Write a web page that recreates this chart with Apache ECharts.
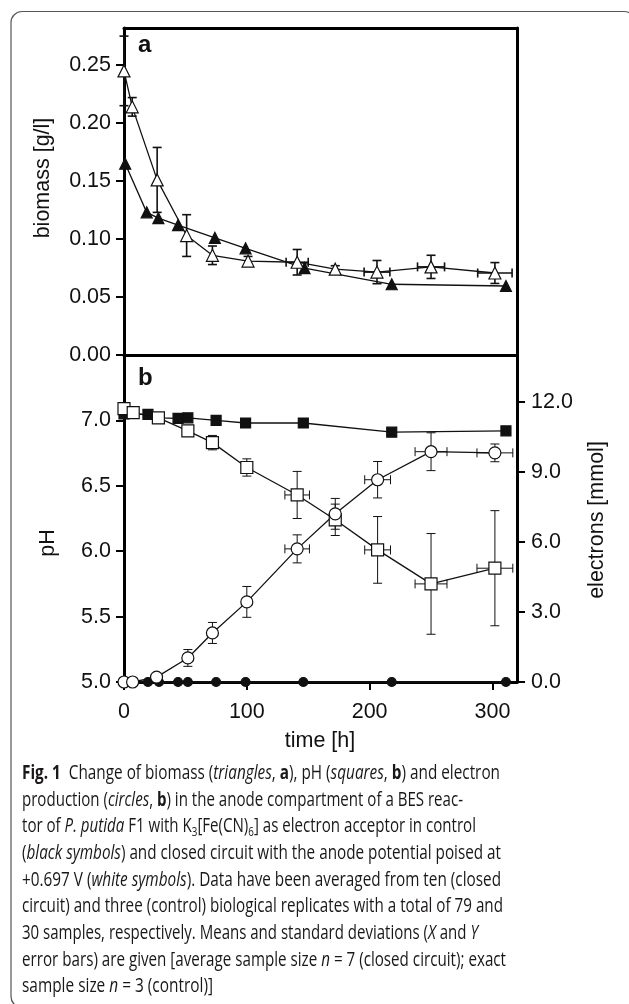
<!DOCTYPE html>
<html>
<head>
<meta charset="utf-8">
<script src="https://cdn.jsdelivr.net/npm/echarts@6/dist/echarts.min.js"></script>
<style>
body{margin:0;background:#fff;}
#main{position:absolute;left:0;top:0;width:629px;height:1004px;}
#cap{position:absolute;left:22px;top:759px;font-family:"Open Sans",sans-serif;font-size:19.5px;color:#1a1718;}
#cap div{height:26.67px;line-height:26.67px;white-space:nowrap;}
#cap span.l{display:inline-block;transform-origin:0 50%;}
#cap sub{font-size:65%;line-height:0;vertical-align:-0.3em;}
</style>
</head>
<body>
<div id="main"></div>
<div id="cap">
<div><span class="l"><b>Fig. 1</b>&nbsp;&nbsp;Change of biomass (<i>triangles</i>, <b>a</b>), pH (<i>squares</i>, <b>b</b>) and electron</span></div>
<div><span class="l">production (<i>circles</i>, <b>b</b>) in the anode compartment of a BES reac-</span></div>
<div><span class="l">tor of <i>P. putida</i> F1 with K<sub>3</sub>[Fe(CN)<sub>6</sub>] as electron acceptor in control</span></div>
<div><span class="l">(<i>black symbols</i>) and closed circuit with the anode potential poised at</span></div>
<div><span class="l">+0.697 V (<i>white symbols</i>). Data have been averaged from ten (closed</span></div>
<div><span class="l">circuit) and three (control) biological replicates with a total of 79 and</span></div>
<div><span class="l">30 samples, respectively. Means and standard deviations (<i>X</i> and <i>Y</i></span></div>
<div><span class="l">error bars) are given [average sample size <i>n</i> = 7 (closed circuit); exact</span></div>
<div><span class="l">sample size <i>n</i> = 3 (control)]</span></div>
</div>
<script>
// panel a: biomass [g/l]
var triClosedT = [0, 6.7, 27, 51, 72, 101, 141, 172, 206, 250, 302];
var triClosedV = [0.245, 0.214, 0.151, 0.103, 0.086, 0.081, 0.080, 0.074, 0.0715, 0.076, 0.0707];
var triClosedSdV = [0.03, 0.008, 0.028, 0.018, 0.008, 0.004, 0.011, 0.003, 0.010, 0.010, 0.009];
var triClosedSdT = [0, 0, 0, 0, 0, 0, 9, 0, 10.5, 11, 14];
var triCtrlT = [1, 18.5, 28, 44, 74, 99, 147, 218, 311];
var triCtrlV = [0.165, 0.123, 0.118, 0.112, 0.101, 0.092, 0.075, 0.061, 0.0595];

// panel b: pH and electrons [mmol]
var sqClosedT = [0, 7.5, 28, 52, 72, 100, 141, 172, 206.5, 250, 302];
var sqClosedV = [7.09, 7.06, 7.02, 6.92, 6.83, 6.64, 6.43, 6.24, 6.01, 5.75, 5.87];
var sqClosedSdV = [0, 0, 0, 0, 0.055, 0.066, 0.18, 0.12, 0.255, 0.385, 0.44];
var sqClosedSdT = [0, 0, 0, 0, 0, 0, 10, 0, 10.5, 13, 14.6];
var sqCtrlT = [0, 19.5, 28.5, 44, 52, 75, 99, 146, 218, 311];
var sqCtrlV = [7.05, 7.046, 7.02, 7.015, 7.02, 7.0, 6.98, 6.98, 6.91, 6.92];

var ciClosedT = [0, 7, 26.5, 52, 72, 100, 141, 172, 206.5, 250, 302];
var ciClosedV = [0, 0, 0.21, 1.03, 2.1, 3.43, 5.7, 7.2, 8.66, 9.86, 9.81];
var ciClosedSdV = [0, 0, 0, 0.36, 0.45, 0.66, 0.6, 0.66, 0.78, 0.81, 0.38];
var ciClosedSdT = [0, 0, 0, 0, 0, 0, 10, 0, 10.5, 13, 14.6];
var ciCtrlT = [0, 19.5, 28.5, 44, 52, 75, 99, 146, 218, 311];
var ciCtrlV = [0, 0, 0, 0, 0, 0, 0, 0, 0, 0];

var timeTicks = [0, 100, 200, 300];
var bioTicks = [0, 0.05, 0.10, 0.15, 0.20, 0.25];
var phTicks = [5.0, 5.5, 6.0, 6.5, 7.0];
var elTicks = [0, 3, 6, 9, 12];

var capTargets = [478, 441, 454, 479, 479, 481, 456, 484, 191];

var font = 'Liberation Sans, Arial, sans-serif';
var ink = '#111';

function pairs(t, v) {
    return t.map(function (x, i) { return [x, v[i]]; });
}

function errRows(t, v, st, sv) {
    return t.map(function (x, i) { return [x, v[i], st[i], sv[i]]; });
}

function errBars(lw) {
    var cap = 4.5;
    return function (params, api) {
        var t = api.value(0), v = api.value(1), st = api.value(2), sv = api.value(3);
        var style = {stroke: ink, lineWidth: lw, fill: null};
        var kids = [];
        if (sv > 0) {
            var a = api.coord([t, v + sv]), b = api.coord([t, v - sv]);
            kids.push({type: 'line', shape: {x1: a[0], y1: a[1], x2: b[0], y2: b[1]}, style: style});
            kids.push({type: 'line', shape: {x1: a[0] - cap, y1: a[1], x2: a[0] + cap, y2: a[1]}, style: style});
            kids.push({type: 'line', shape: {x1: b[0] - cap, y1: b[1], x2: b[0] + cap, y2: b[1]}, style: style});
        }
        if (st > 0) {
            var l = api.coord([t - st, v]), r = api.coord([t + st, v]);
            kids.push({type: 'line', shape: {x1: l[0], y1: l[1], x2: r[0], y2: r[1]}, style: style});
            kids.push({type: 'line', shape: {x1: l[0], y1: l[1] - cap, x2: l[0], y2: l[1] + cap}, style: style});
            kids.push({type: 'line', shape: {x1: r[0], y1: r[1] - cap, x2: r[0], y2: r[1] + cap}, style: style});
        }
        return {type: 'group', children: kids};
    };
}

function errSeries(xi, yi, rows, lw) {
    return {
        type: 'custom', xAxisIndex: xi, yAxisIndex: yi, data: rows,
        renderItem: errBars(lw), encode: {x: 0, y: 1}, z: 1, silent: true
    };
}

function lineSeries(xi, yi, data, sym, size, filled, z) {
    return {
        type: 'line', xAxisIndex: xi, yAxisIndex: yi, data: data,
        symbol: sym, symbolSize: size, showAllSymbol: true, clip: false, z: z,
        lineStyle: {color: ink, width: 1.3},
        itemStyle: {color: filled ? ink : '#fff', borderColor: ink, borderWidth: 1.2, opacity: 1}
    };
}

var axLine = {show: true, onZero: false, lineStyle: {color: '#000', width: 3}};
var noTick = {show: false};
var noLabel = {show: false};
var noSplit = {show: false};

function tick(vals) {
    return {show: true, inside: false, length: 8, customValues: vals, lineStyle: {color: '#000', width: 2}};
}

function label(vals, digits, margin) {
    return {
        show: true, customValues: vals, margin: margin,
        fontFamily: font, fontSize: 21.5, color: ink,
        formatter: function (v) { return Number(v).toFixed(digits); }
    };
}

var myChart = echarts.init(document.getElementById('main'));
var option = {
    animation: false,
    backgroundColor: '#fff',
    grid: [
        {left: 124, top: 28, width: 393, height: 327},
        {left: 124, top: 355, width: 393, height: 327}
    ],
    xAxis: [
        {gridIndex: 0, type: 'value', min: 0, max: 320, position: 'bottom', axisLine: axLine, axisTick: noTick, axisLabel: noLabel, splitLine: noSplit},
        {gridIndex: 0, type: 'value', min: 0, max: 320, position: 'top', axisLine: axLine, axisTick: noTick, axisLabel: noLabel, splitLine: noSplit},
        {gridIndex: 1, type: 'value', min: 0, max: 320, position: 'bottom', axisLine: axLine, axisTick: tick(timeTicks), axisLabel: label(timeTicks, 0, 19), splitLine: noSplit}
    ],
    yAxis: [
        {gridIndex: 0, type: 'value', min: 0, max: 0.282, position: 'left', axisLine: axLine, axisTick: tick(bioTicks), axisLabel: label(bioTicks, 2, 13), splitLine: noSplit},
        {gridIndex: 0, type: 'value', min: 0, max: 0.282, position: 'right', axisLine: axLine, axisTick: noTick, axisLabel: noLabel, splitLine: noSplit},
        {gridIndex: 1, type: 'value', min: 5, max: 7.5, position: 'left', axisLine: axLine, axisTick: tick(phTicks), axisLabel: label(phTicks, 1, 13), splitLine: noSplit},
        {gridIndex: 1, type: 'value', min: 0, max: 14, position: 'right', axisLine: axLine, axisTick: tick(elTicks), axisLabel: label(elTicks, 1, 14), splitLine: noSplit}
    ],
    series: [
        errSeries(0, 0, errRows(triClosedT, triClosedV, triClosedSdT, triClosedSdV), 1.6),
        lineSeries(0, 0, pairs(triCtrlT, triCtrlV), 'triangle', 11, true, 3),
        lineSeries(0, 0, pairs(triClosedT, triClosedV), 'triangle', 12, false, 4),

        errSeries(2, 2, errRows(sqClosedT, sqClosedV, sqClosedSdT, sqClosedSdV), 1),
        errSeries(2, 3, errRows(ciClosedT, ciClosedV, ciClosedSdT, ciClosedSdV), 1),
        lineSeries(2, 2, pairs(sqCtrlT, sqCtrlV), 'rect', 10, true, 3),
        lineSeries(2, 3, pairs(ciCtrlT, ciCtrlV), 'circle', 9, true, 3),
        lineSeries(2, 2, pairs(sqClosedT, sqClosedV), 'rect', 12, false, 4),
        lineSeries(2, 3, pairs(ciClosedT, ciClosedV), 'circle', 12, false, 4)
    ],
    graphic: [
        {type: 'rect', z: 0, shape: {x: 11, y: 11.5, width: 624, height: 996, r: 11}, style: {fill: null, stroke: '#555', lineWidth: 1.2}},
        {type: 'text', x: 138, y: 45, style: {text: 'a', font: 'bold 24px ' + font, fill: ink, align: 'left', verticalAlign: 'middle'}},
        {type: 'text', x: 138, y: 378, style: {text: 'b', font: 'bold 24px ' + font, fill: ink, align: 'left', verticalAlign: 'middle'}},
        {type: 'text', x: 43, y: 178, rotation: Math.PI / 2, style: {text: 'biomass [g/l]', font: '21.5px ' + font, fill: ink, align: 'center', verticalAlign: 'middle'}},
        {type: 'text', x: 48, y: 543, rotation: Math.PI / 2, style: {text: 'pH', font: '21.5px ' + font, fill: ink, align: 'center', verticalAlign: 'middle'}},
        {type: 'text', x: 597, y: 520, rotation: Math.PI / 2, style: {text: 'electrons [mmol]', font: '21.5px ' + font, fill: ink, align: 'center', verticalAlign: 'middle'}},
        {type: 'text', x: 320, y: 741, style: {text: 'time [h]', font: '21.5px ' + font, fill: ink, align: 'center', verticalAlign: 'middle'}}
    ]
};
myChart.setOption(option);

function fitCaption() {
    var spans = document.querySelectorAll('#cap span.l');
    spans.forEach(function (s, i) {
        s.style.transform = 'none';
        var w = s.getBoundingClientRect().width;
        s.style.transform = 'scaleX(' + (capTargets[i] / w) + ')';
    });
}
fitCaption();
if (document.fonts && document.fonts.ready) {
    document.fonts.ready.then(fitCaption);
}
</script>
</body>
</html>
